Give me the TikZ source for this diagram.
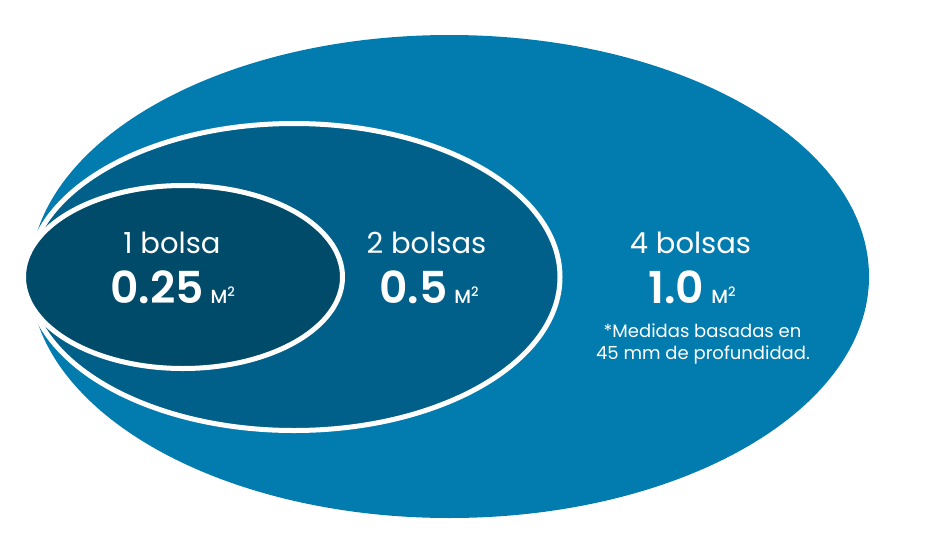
\documentclass[tikz,border=0pt]{standalone}
\usepackage{fontspec}
\setmainfont{Poppins}
\newfontfamily\semifont{Poppins SemiBold}
\newfontfamily\medfont{Poppins Medium}
\usetikzlibrary{shapes.geometric}
\definecolor{bandouter}{RGB}{2,124,175}
\definecolor{bandmid}{RGB}{0,96,137}
\definecolor{bandinner}{RGB}{0,74,106}
\newcommand{\sqmeter}{\hspace{7pt}{\fontsize{19}{19}\medfont M\raisebox{7pt}{\fontsize{13}{13}\selectfont 2}}}
\tikzset{
  zone/.style={ellipse, draw=white, line width=5pt, inner sep=0pt, outer sep=0pt},
  count/.style={text=white, anchor=base, inner sep=0pt, font=\fontsize{29}{29}\selectfont},
  area/.style={text=white, anchor=base, inner sep=0pt, font=\fontsize{44}{44}\semifont},
  note/.style={text=white, anchor=base, inner sep=0pt, font=\fontsize{18}{18}\selectfont},
}

\begin{document}
\begin{tikzpicture}[x=1pt,y=-1pt]
        \useasboundingbox (0,0) rectangle (931,554);
        \node[zone,draw=none,fill=bandouter,minimum width=839pt,minimum height=483pt] (four) at (449.5,276.5) {};
        \node[zone,fill=bandmid,minimum width=532pt,minimum height=307pt] (two) at (294,277) {};
        \node[zone,fill=bandinner,minimum width=319pt,minimum height=183pt] (one) at (183,277) {};
        % labels
        \node[count] (c1) at (172,253) {1 bolsa};
        \node[area] (a1) at (172.5,303) {0.25\sqmeter};
        \node[count] (c2) at (426.5,253) {2 bolsas};
        \node[area] (a2) at (429,303) {0.5\sqmeter};
        \node[count] (c4) at (690.5,253) {4 bolsas};
        \node[area] (a4) at (692,303) {1.0\sqmeter};
        \node[note] (n1) at (702.5,337) {*Medidas basadas en};
        \node[note] (n2) at (703,359) {45 mm de profundidad.};
      \end{tikzpicture}
\end{document}
